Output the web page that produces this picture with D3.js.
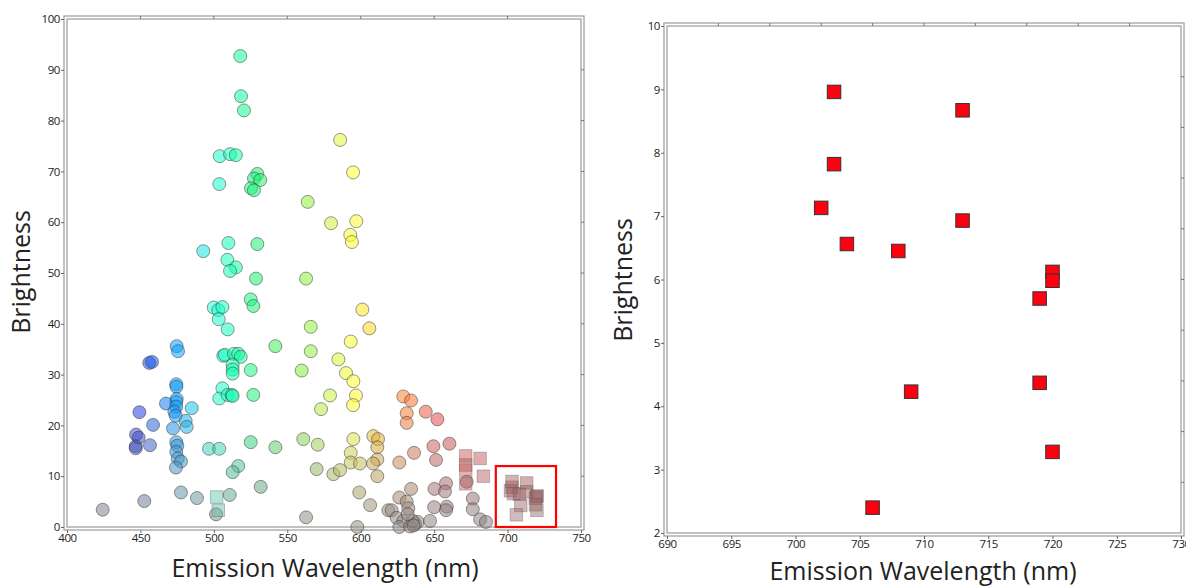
<!DOCTYPE html>
<html>
<head>
<meta charset="utf-8">
<script src="https://cdn.jsdelivr.net/npm/d3@7"></script>
<style>
  body { margin: 0; background: #fff; }
  svg { display: block; }
  text { font-family: "Open Sans", "Noto Sans", sans-serif; fill: #222; }
</style>
</head>
<body>
<div id="chart"></div>
<script>
// data
// circles (all proteins), left panel
const circleWavelength = [
  424.3, 452.6, 456, 457.9, 449.3, 458.6, 447, 448.8, 446.8, 446.8, 456.5,
  474.7, 475.6, 474.4, 474.5, 474.7, 474.4, 467.4, 474.4, 484.9, 473.1, 474, 480.8, 472.2, 481.5,
  474.4, 475.1, 474.4, 475.4, 477.6, 474.2, 477.6, 488.5, 492.8, 496.7,
  503.7, 501.5, 510.8, 499.9, 503, 505.8, 503.3, 509.4, 506.4, 507.5, 513.7, 516.6, 518.3,
  512.8, 512.8, 512.8, 525.1, 505.8, 503.7, 509.4, 512.2, 512.8, 526.9, 525.1, 541.9,
  516.6, 512.8, 531.9, 525.1, 526.9, 528.7, 562.8, 509.2, 515, 511, 509.9, 529.6,
  503.7, 504, 511, 515, 529.6, 527.3, 531.6, 525.3, 527.3, 518, 518.5, 520.5, 541.9,
  566, 566, 559.8, 563.9, 579.8, 597, 592.9, 594, 586, 594.8, 601.1, 605.9, 593.2, 584.8,
  590, 595, 596.8, 594.8, 579.1, 573, 560.9, 570.7, 570, 581.4, 585.9, 593.2, 593.2, 599.5,
  595, 608.6, 611.8, 611.3, 611.3, 608.4, 611.3, 599, 606.4, 562.8, 597.7, 618.8,
  629, 634.3, 631.3, 631.3, 644.3, 652.2, 649.5, 660.4, 651.3, 636.3, 626.3, 634.3, 626.3,
  631.3, 632.4, 621.1, 624.5, 629, 626.3, 633.6, 637, 638.8, 647.2, 635.3, 650.2, 658.1,
  657.4, 650, 658.6, 658.1, 676.3, 676.3, 681.3, 685.3, 672.2, 632, 636
];
const circleBrightness = [
  3.4, 5.1, 32.3, 32.5, 22.6, 20.1, 18.2, 17.6, 15.9, 15.5, 16.1,
  35.6, 34.6, 28.1, 27.6, 25.2, 24.6, 24.3, 23.7, 23.4, 22.7, 21.9, 20.9, 19.4, 19.7,
  16.7, 16, 14.8, 13.5, 12.9, 11.7, 6.8, 5.7, 54.3, 15.4,
  15.4, 2.5, 6.3, 43.2, 42.7, 43.3, 40.9, 38.9, 33.7, 33.9, 34.1, 34.1, 33.5,
  31.9, 31, 30.2, 30.9, 27.3, 25.3, 26, 26, 25.8, 26, 16.7, 15.7,
  12, 10.8, 7.9, 44.8, 43.5, 48.9, 48.9, 52.6, 51.1, 50.4, 55.9, 55.7,
  67.5, 73, 73.4, 73.2, 69.5, 68.6, 68.3, 66.7, 66.3, 92.7, 84.8, 82, 35.6,
  39.4, 34.6, 30.8, 64, 59.8, 60.2, 57.5, 56.1, 76.2, 69.8, 42.8, 39.1, 36.5, 33,
  30.3, 28.7, 25.9, 24, 25.9, 23.2, 17.3, 16.2, 11.4, 10.4, 11.2, 14.6, 12.7, 12.5,
  17.3, 17.9, 17.3, 15.7, 13.3, 12.5, 10, 6.8, 4.3, 1.9, 0, 3.3,
  25.7, 24.9, 22.4, 20.5, 22.7, 21.2, 15.9, 16.4, 13.2, 14.6, 12.7, 7.5, 5.8,
  5, 3.7, 3.3, 1.8, 1.2, 0, 0.1, 0.6, 1, 1.2, 1.2, 7.5, 8.6,
  7, 3.9, 4, 3.3, 5.6, 3.5, 1.5, 1, 8.9, 2.5, 0.3
];
// squares outside the highlighted region, left panel
const squareWavelength = [501.9, 503, 671.5, 671.5, 671.5, 671.5, 681.3, 683.5];
const squareBrightness = [5.9, 3.3, 14, 12.2, 11.2, 8.5, 13.5, 10];
// far-red squares, shown in both panels
const farRedWavelength = [703, 703, 702, 704, 708, 713, 713, 720, 720, 719, 719, 709, 720, 706];
const farRedBrightness = [8.96, 7.82, 7.13, 6.56, 6.45, 8.67, 6.93, 6.12, 5.98, 5.70, 4.37, 4.23, 3.28, 2.40];
// highlighted box on the left panel
const boxWavelength = [692, 733];
const boxBrightness = [0, 12];

const leftXTicks = [400, 450, 500, 550, 600, 650, 700, 750];
const leftYTicks = [0, 10, 20, 30, 40, 50, 60, 70, 80, 90, 100];
const rightXTicks = [690, 695, 700, 705, 710, 715, 720, 725, 730];
const rightYTicks = [2, 3, 4, 5, 6, 7, 8, 9, 10];

const WIDTH = 1186, HEIGHT = 586;
const FRAME = "#9a9a9a";

const svg = d3.select("#chart").append("svg")
    .attr("width", WIDTH)
    .attr("height", HEIGHT);

// colour from wavelength, greyed out when dim
const hueScale = d3.scaleLinear()
    .domain([420, 450, 475, 500, 515, 530, 560, 580, 595, 610, 630, 650, 680, 720])
    .range(["#6a4cc8", "#2038e0", "#0ea0ff", "#20ffd8", "#10ffa8", "#20f070", "#80f040",
            "#d0f040", "#ffff30", "#ffc020", "#ff8030", "#f04848", "#c83838", "#a02828"])
    .clamp(true);
const satScale = d3.scaleLinear().domain([2, 24]).range([0.08, 1]).clamp(true);
function pointColor(w, b) {
    return d3.interpolateRgb("#8a8a8a", hueScale(w))(satScale(b));
}

function drawFrame(g, x, y, topDiv, rightDiv) {
    let [x0, x1] = x.range();
    let [y1, y0] = y.range();
    g.append("rect")
        .attr("x", x0 - 3).attr("y", y0 - 3)
        .attr("width", x1 - x0 + 6).attr("height", y1 - y0 + 6)
        .attr("fill", "none").attr("stroke", FRAME).attr("stroke-width", 1.2);
    g.append("rect")
        .attr("x", x0).attr("y", y0)
        .attr("width", x1 - x0).attr("height", y1 - y0)
        .attr("fill", "none").attr("stroke", FRAME).attr("stroke-width", 1.2);

    // ticks on top and right run across the band
    let tx = d3.scaleLinear().domain([0, topDiv]).range([x0, x1]);
    g.selectAll(".ttop").data(d3.range(1, topDiv)).enter().append("line")
        .attr("x1", d => tx(d)).attr("x2", d => tx(d))
        .attr("y1", y0 - 3).attr("y2", y0)
        .attr("stroke", "#777");
    let ty = d3.scaleLinear().domain([0, rightDiv]).range([y1, y0]);
    g.selectAll(".tright").data(d3.range(1, rightDiv)).enter().append("line")
        .attr("y1", d => ty(d)).attr("y2", d => ty(d))
        .attr("x1", x1).attr("x2", x1 + 3)
        .attr("stroke", "#777");
}

function drawAxes(g, x, y, xTicks, yTicks) {
    let [x0, x1] = x.range();
    let [y1, y0] = y.range();
    let ax = g.append("g")
        .attr("transform", `translate(0, ${y1 + 3})`)
        .call(d3.axisBottom(x).tickValues(xTicks).tickSize(3).tickPadding(1).tickFormat(d3.format("d")));
    let ay = g.append("g")
        .attr("transform", `translate(${x0 - 3}, 0)`)
        .call(d3.axisLeft(y).tickValues(yTicks).tickSize(3).tickPadding(1).tickFormat(d3.format("d")));
    [ax, ay].forEach(a => {
        a.select(".domain").remove();
        a.selectAll(".tick line").attr("stroke", "#666");
        a.selectAll(".tick text")
            .style("font-family", "'Open Sans', sans-serif")
            .style("font-size", "11.5px")
            .style("letter-spacing", "-0.4px")
            .attr("fill", "#333");
    });
}

function axisTitles(g, cx, cy, bx, by) {
    g.append("text")
        .attr("transform", `translate(${cx}, ${cy}) rotate(-90)`)
        .style("text-anchor", "middle")
        .style("font-size", "25px")
        .text("Brightness");
    g.append("text")
        .attr("x", bx).attr("y", by)
        .style("text-anchor", "middle")
        .style("font-size", "25px")
        .text("Emission Wavelength (nm)");
}

// ---------- left panel ----------
let x1 = d3.scaleLinear().domain([400, 750]).range([67, 581]);
let y1 = d3.scaleLinear().domain([0, 100]).range([527, 19]);
let left = svg.append("g");

drawFrame(left, x1, y1, 7, 10);
drawAxes(left, x1, y1, leftXTicks, leftYTicks);

let circles = circleWavelength.map((w, i) => ({w: w, b: circleBrightness[i]}));
left.selectAll("circle.pt").data(circles).enter()
    .append("circle")
    .attr("class", "pt")
    .attr("cx", d => x1(d.w))
    .attr("cy", d => y1(d.b))
    .attr("r", 6.5)
    .attr("fill", d => pointColor(d.w, d.b))
    .attr("fill-opacity", 0.55)
    .attr("stroke", "#333")
    .attr("stroke-opacity", 0.5);

let squares = squareWavelength.map((w, i) => ({w: w, b: squareBrightness[i]}))
    .concat(farRedWavelength.map((w, i) => ({w: w, b: farRedBrightness[i]})));
const SQ1 = 12.5;
left.selectAll("rect.sq").data(squares).enter()
    .append("rect")
    .attr("class", "sq")
    .attr("x", d => x1(d.w) - SQ1 / 2)
    .attr("y", d => y1(d.b) - SQ1 / 2)
    .attr("width", SQ1).attr("height", SQ1)
    .attr("fill", d => pointColor(d.w, d.b + 6))
    .attr("fill-opacity", 0.45)
    .attr("stroke", "#555")
    .attr("stroke-opacity", 0.35);

left.append("rect")
    .attr("x", x1(boxWavelength[0]))
    .attr("y", y1(boxBrightness[1]))
    .attr("width", x1(boxWavelength[1]) - x1(boxWavelength[0]))
    .attr("height", y1(boxBrightness[0]) - y1(boxBrightness[1]))
    .attr("fill", "none")
    .attr("stroke", "#ff0000")
    .attr("stroke-width", 2.2);

axisTitles(left, 30, 272, 325, 577);

// ---------- right panel ----------
let x2 = d3.scaleLinear().domain([690, 730]).range([667, 1181]);
let y2 = d3.scaleLinear().domain([2, 10]).range([533, 26]);
let right = svg.append("g");

drawFrame(right, x2, y2, 10, 10);
drawAxes(right, x2, y2, rightXTicks, rightYTicks);

let farRed = farRedWavelength.map((w, i) => ({w: w, b: farRedBrightness[i]}));
const SQ2 = 13.5;
right.selectAll("rect.sq").data(farRed).enter()
    .append("rect")
    .attr("class", "sq")
    .attr("x", d => x2(d.w) - SQ2 / 2)
    .attr("y", d => y2(d.b) - SQ2 / 2)
    .attr("width", SQ2).attr("height", SQ2)
    .attr("fill", "#ff0010")
    .attr("stroke", "#333")
    .attr("stroke-width", 1);

axisTitles(right, 632, 280, 923, 580);
</script>
</body>
</html>
